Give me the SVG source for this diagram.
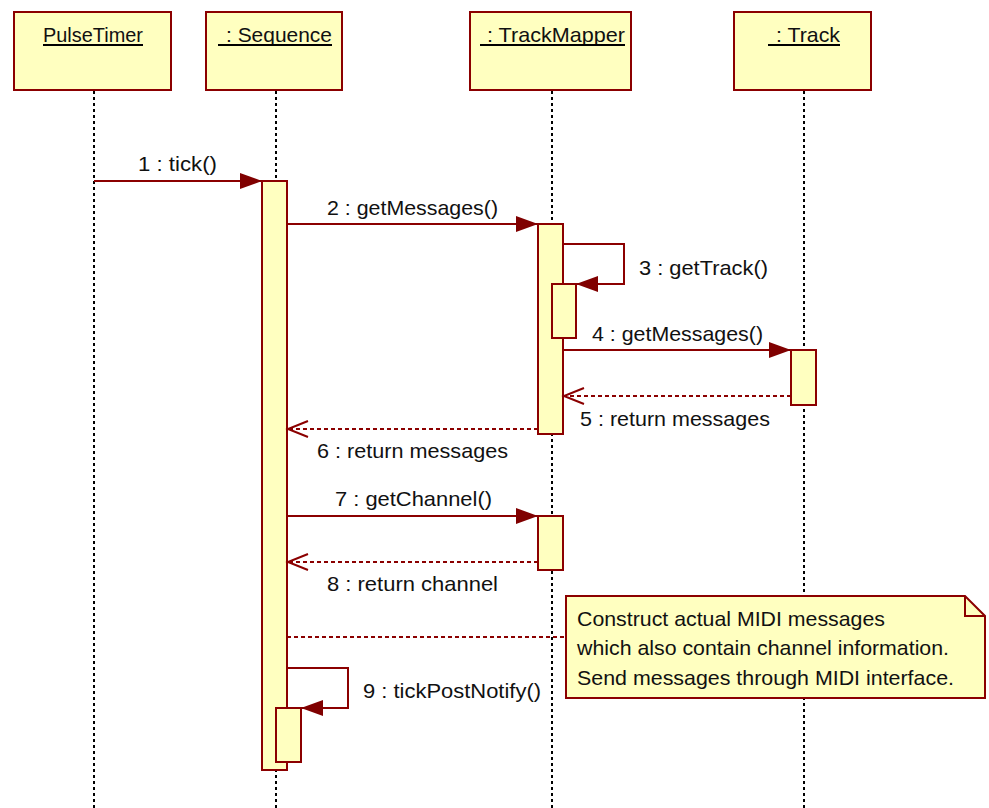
<svg xmlns="http://www.w3.org/2000/svg" width="989" height="808" viewBox="0 0 989 808">
  <style>
    .box { fill: #FFFFC0; stroke: #8B0000; stroke-width: 2; }
    .life { stroke: #000; stroke-width: 2; stroke-dasharray: 3 3; fill: none; }
    .msg { stroke: #8B0000; stroke-width: 2; fill: none; }
    .ret { stroke: #8B0000; stroke-width: 2; stroke-dasharray: 4 3; fill: none; }
    .uline { stroke: #000; stroke-width: 2; }
    text { font-family: "Liberation Sans", Arial, sans-serif; font-size: 21px; fill: #111; }
  </style>
  <defs>
    <marker id="call" markerUnits="userSpaceOnUse" markerWidth="24" markerHeight="18" refX="22" refY="8" orient="auto">
      <path d="M0,0 L22,8 L0,16 Z" fill="#800000"/>
    </marker>
    <marker id="reply" markerUnits="userSpaceOnUse" markerWidth="24" markerHeight="20" refX="21" refY="9" orient="auto">
      <path d="M1,1 L21,9 L1,17" fill="none" stroke="#8B0000" stroke-width="2"/>
    </marker>
  </defs>

  <!-- lifelines -->
  <g id="lifelines">
    <line class="life" x1="94" y1="91" x2="94" y2="808"/>
    <line class="life" x1="276" y1="91" x2="276" y2="808"/>
    <line class="life" x1="552" y1="91" x2="552" y2="808"/>
    <line class="life" x1="804" y1="91" x2="804" y2="808"/>
  </g>

  <!-- objects -->
  <g id="pulseTimer">
    <rect class="box" x="14" y="12" width="157" height="78"/>
    <text x="43" y="42" textLength="100" lengthAdjust="spacingAndGlyphs">PulseTimer</text>
    <line class="uline" x1="43" y1="45" x2="143" y2="45"/>
  </g>
  <g id="sequence">
    <rect class="box" x="206" y="12" width="136" height="78"/>
    <text x="226" y="42" textLength="106" lengthAdjust="spacingAndGlyphs">: Sequence</text>
    <line class="uline" x1="218" y1="45" x2="332" y2="45"/>
    <rect class="box" x="262" y="181" width="25" height="589"/>
    <rect class="box" x="276" y="708" width="25" height="54"/>
  </g>
  <g id="trackMapper">
    <rect class="box" x="470" y="12" width="161" height="78"/>
    <text x="487" y="42" textLength="138" lengthAdjust="spacingAndGlyphs">: TrackMapper</text>
    <line class="uline" x1="480" y1="45" x2="625" y2="45"/>
    <rect class="box" x="538" y="224" width="25" height="210"/>
    <rect class="box" x="552" y="284" width="24" height="54"/>
    <rect class="box" x="538" y="516" width="25" height="54"/>
  </g>
  <g id="track">
    <rect class="box" x="734" y="12" width="137" height="78"/>
    <text x="776" y="42" textLength="64" lengthAdjust="spacingAndGlyphs">: Track</text>
    <line class="uline" x1="768" y1="45" x2="840" y2="45"/>
    <rect class="box" x="791" y="350" width="25" height="55"/>
  </g>

  <!-- note -->
  <g id="note">
    <path class="box" d="M566,596 L965,596 L985,616 L985,698 L566,698 Z"/>
    <path d="M965,596 L965,616 L985,616" fill="none" stroke="#8B0000" stroke-width="2"/>
    <text x="577" y="626" textLength="308" lengthAdjust="spacingAndGlyphs">Construct actual MIDI messages</text>
    <text x="577" y="655" textLength="372" lengthAdjust="spacingAndGlyphs">which also contain channel information.</text>
    <text x="577" y="685" textLength="377" lengthAdjust="spacingAndGlyphs">Send messages through MIDI interface.</text>
  </g>

  <!-- messages -->
  <g id="connectors">
    <line class="msg" x1="94" y1="181" x2="262" y2="181" marker-end="url(#call)"/>
    <line class="msg" x1="287" y1="224" x2="538" y2="224" marker-end="url(#call)"/>
    <polyline class="msg" points="563,244 624,244 624,284 576,284" marker-end="url(#call)"/>
    <line class="msg" x1="563" y1="350" x2="791" y2="350" marker-end="url(#call)"/>
    <line class="ret" x1="791" y1="396" x2="564" y2="396" marker-end="url(#reply)"/>
    <line class="ret" x1="538" y1="429" x2="288" y2="429" marker-end="url(#reply)"/>
    <line class="msg" x1="287" y1="516" x2="538" y2="516" marker-end="url(#call)"/>
    <line class="ret" x1="538" y1="562" x2="288" y2="562" marker-end="url(#reply)"/>
    <line class="ret" x1="287" y1="637" x2="566" y2="637"/>
    <polyline class="msg" points="287,668 348,668 348,708 301,708" marker-end="url(#call)"/>
  </g>

  <!-- message labels -->
  <g id="labels">
    <text x="138" y="171" textLength="79" lengthAdjust="spacingAndGlyphs">1 : tick()</text>
    <text x="327" y="215" textLength="171" lengthAdjust="spacingAndGlyphs">2 : getMessages()</text>
    <text x="639" y="275" textLength="129" lengthAdjust="spacingAndGlyphs">3 : getTrack()</text>
    <text x="592" y="341" textLength="171" lengthAdjust="spacingAndGlyphs">4 : getMessages()</text>
    <text x="580" y="426" textLength="190" lengthAdjust="spacingAndGlyphs">5 : return messages</text>
    <text x="317" y="458" textLength="191" lengthAdjust="spacingAndGlyphs">6 : return messages</text>
    <text x="335" y="506" textLength="157" lengthAdjust="spacingAndGlyphs">7 : getChannel()</text>
    <text x="327" y="591" textLength="171" lengthAdjust="spacingAndGlyphs">8 : return channel</text>
    <text x="363" y="698" textLength="178" lengthAdjust="spacingAndGlyphs">9 : tickPostNotify()</text>
  </g>
</svg>
